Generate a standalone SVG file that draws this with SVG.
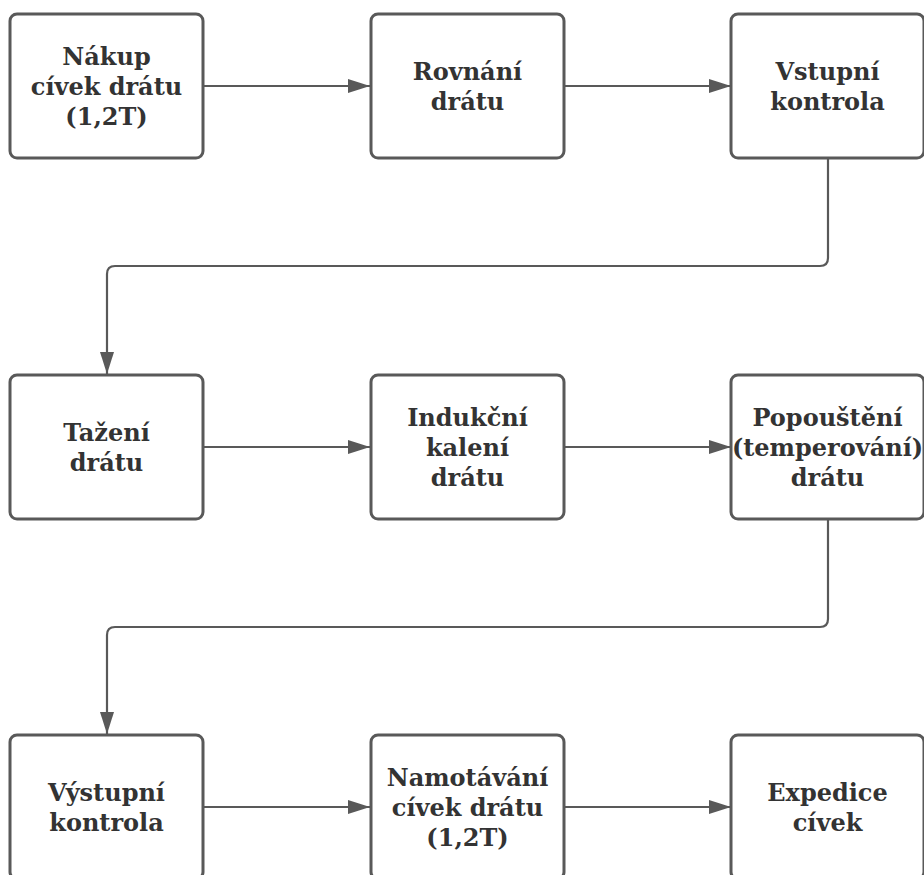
<svg xmlns="http://www.w3.org/2000/svg" width="924" height="875" viewBox="0 0 924 875">
<style>
.box{fill:#fff;stroke:#595959;stroke-width:3}
.lbl{font-family:"DejaVu Serif","Liberation Serif",serif;font-weight:bold;font-size:24px;fill:#333;text-anchor:middle}
.con{fill:none;stroke:#595959;stroke-width:2.2}
</style>
<defs>
<marker id="ah" viewBox="0 0 22 14" refX="22" refY="7" markerWidth="22" markerHeight="14" markerUnits="userSpaceOnUse" orient="auto">
<path d="M0,0 L22,7 L0,14 z" fill="#595959"/>
</marker>
</defs>
<rect width="924" height="875" fill="#fff"/>
<g id="connectors">
<path class="con" d="M203,86 H370" marker-end="url(#ah)"/>
<path class="con" d="M564,86 H731" marker-end="url(#ah)"/>
<path class="con" d="M828,159 V258 Q828,266 820,266 H115 Q107,266 107,274 V374" marker-end="url(#ah)"/>
<path class="con" d="M203,447 H370" marker-end="url(#ah)"/>
<path class="con" d="M564,447 H731" marker-end="url(#ah)"/>
<path class="con" d="M828,520 V619 Q828,627 820,627 H115 Q107,627 107,635 V734" marker-end="url(#ah)"/>
<path class="con" d="M203,807 H370" marker-end="url(#ah)"/>
<path class="con" d="M564,807 H731" marker-end="url(#ah)"/>
</g>
<g id="n1"><rect class="box" x="10" y="14" width="193" height="144" rx="7"/>
<text class="lbl" x="106.5" y="65">Nákup</text><text class="lbl" x="106.5" y="95">cívek drátu</text><text class="lbl" x="106.5" y="125">(1,2T)</text></g>
<g id="n2"><rect class="box" x="371" y="14" width="193" height="144" rx="7"/>
<text class="lbl" x="467.5" y="80">Rovnání</text><text class="lbl" x="467.5" y="110">drátu</text></g>
<g id="n3"><rect class="box" x="731" y="14" width="193" height="144" rx="7"/>
<text class="lbl" x="827.5" y="80">Vstupní</text><text class="lbl" x="827.5" y="110">kontrola</text></g>
<g id="n4"><rect class="box" x="10" y="375" width="193" height="144" rx="7"/>
<text class="lbl" x="106.5" y="441">Tažení</text><text class="lbl" x="106.5" y="471">drátu</text></g>
<g id="n5"><rect class="box" x="371" y="375" width="193" height="144" rx="7"/>
<text class="lbl" x="467.5" y="426">Indukční</text><text class="lbl" x="467.5" y="456">kalení</text><text class="lbl" x="467.5" y="486">drátu</text></g>
<g id="n6"><rect class="box" x="731" y="375" width="193" height="144" rx="7"/>
<text class="lbl" x="827.5" y="426">Popouštění</text><text class="lbl" x="827.5" y="456">(temperování)</text><text class="lbl" x="827.5" y="486">drátu</text></g>
<g id="n7"><rect class="box" x="10" y="735" width="193" height="144" rx="7"/>
<text class="lbl" x="106.5" y="801">Výstupní</text><text class="lbl" x="106.5" y="831">kontrola</text></g>
<g id="n8"><rect class="box" x="371" y="735" width="193" height="144" rx="7"/>
<text class="lbl" x="467.5" y="786">Namotávání</text><text class="lbl" x="467.5" y="816">cívek drátu</text><text class="lbl" x="467.5" y="846">(1,2T)</text></g>
<g id="n9"><rect class="box" x="731" y="735" width="193" height="144" rx="7"/>
<text class="lbl" x="827.5" y="801">Expedice</text><text class="lbl" x="827.5" y="831">cívek</text></g>
</svg>
